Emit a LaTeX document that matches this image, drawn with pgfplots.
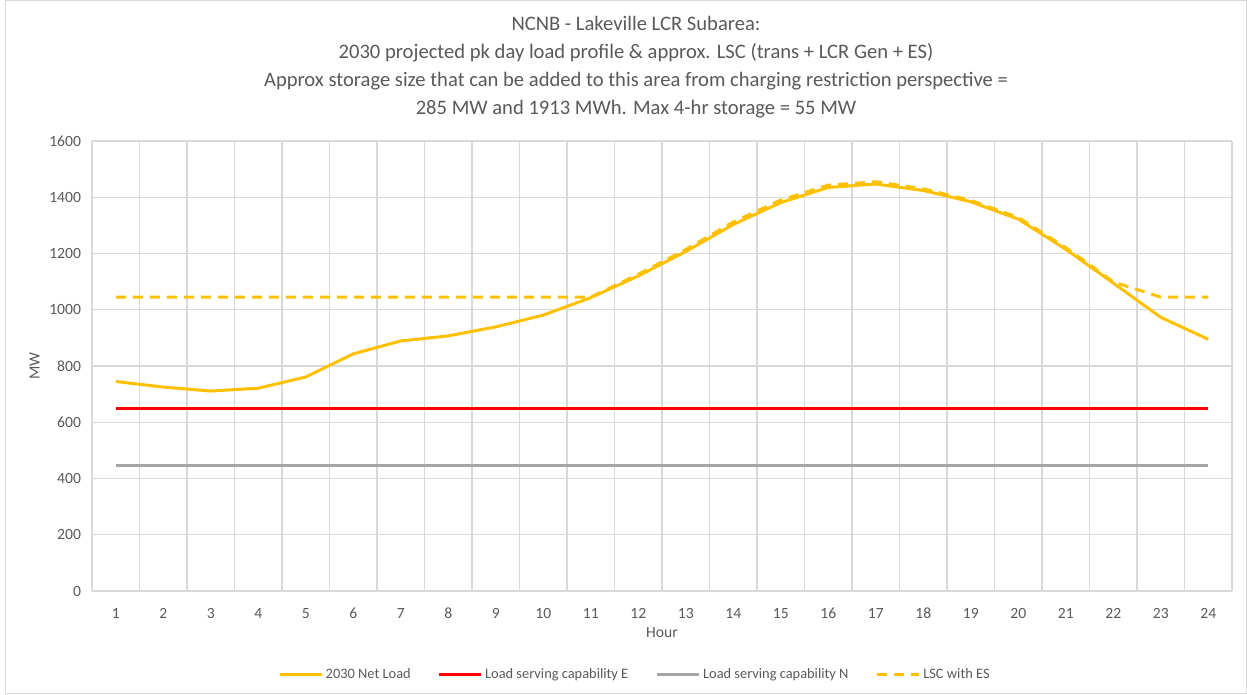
\documentclass[border=0pt]{standalone}
\usepackage{fontspec}
\setmainfont{Carlito}
\usepackage{pgfplots}
\pgfplotsset{compat=1.18}
\definecolor{xlyellow}{HTML}{FFC000}
\definecolor{xlred}{HTML}{FF0000}
\definecolor{xlgray}{HTML}{A5A5A5}
\definecolor{txtgray}{HTML}{595959}
\definecolor{gridgray}{HTML}{D9D9D9}

\begin{document}
\begin{tikzpicture}[x=1pt,y=1pt]
  % chart area (1 px = 0.5 pt), axis lower-left at origin
  \path[use as bounding box] (-46,-52) rectangle (577.5,295.5);
  \draw[gridgray, line width=0.5pt] (-43,-51.5) rectangle (577,295);
  \begin{axis}[
      at={(0,0)}, anchor=origin,
      scale only axis, width=570pt, height=225pt,
      xmin=0.5, xmax=24.5, ymin=0, ymax=1600,
      xtick={1,...,24},
      minor xtick={0.5,1.5,2.5,3.5,4.5,5.5,6.5,7.5,8.5,9.5,10.5,11.5,12.5,
        13.5,14.5,15.5,16.5,17.5,18.5,19.5,20.5,21.5,22.5,23.5,24.5},
      ytick={0,200,...,1600},
      xminorgrids, ymajorgrids,
      grid style={gridgray, line width=0.55pt},
      minor grid style={gridgray, line width=0.55pt},
      major tick length=0pt, minor tick length=0pt,
      axis line style={draw=none},
      axis x line*=bottom, axis y line*=left,
      x axis line style={draw=gridgray, line width=0.6pt},
      tick label style={font=\fontsize{7.8}{9}\selectfont, text=txtgray},
      /pgf/number format/assume math mode=true,
      /pgf/number format/1000 sep={},
      xticklabel style={yshift=-5pt},
      yticklabel style={xshift=-2pt},
      xlabel={Hour}, ylabel={MW},
      label style={font=\fontsize{7.8}{9}\selectfont, text=txtgray},
      xlabel style={yshift=2.5pt},
      ylabel style={yshift=-2pt},
      legend style={draw=none, fill=none, at={(0.4765,-0.186)}, anchor=center,
        font=\fontsize{7.2}{8}\selectfont, text=txtgray,
        nodes={inner xsep=1.2pt},
        /tikz/every even column/.append style={column sep=12.5pt}},
      legend columns=4,
      legend image code/.code={\draw[#1] (0pt,0pt) -- (21pt,0pt);},
    ]
    \addplot[xlyellow, line width=1.5pt] coordinates {
      (1,745) (2,725) (3,711) (4,721) (5,761) (6,843) (7,889) (8,907)
      (9,939) (10,981) (11,1043) (12,1120) (13,1207) (14,1303) (15,1381)
      (16,1435) (17,1447) (18,1424) (19,1384) (20,1322) (21,1215)
      (22,1095) (23,973) (24,895)};
    \addlegendentry{2030 Net Load}
    \addplot[xlred, line width=1.3pt] coordinates {(1,648) (24,648)};
    \addlegendentry{Load serving capability E}
    \addplot[xlgray, line width=1.5pt] coordinates {(1,445) (24,445)};
    \addlegendentry{Load serving capability N}
    \addplot[xlyellow, line width=1.5pt, dash pattern=on 5pt off 3.5pt] coordinates {
      (1,1045) (2,1045) (3,1045) (4,1045) (5,1045) (6,1045) (7,1045) (8,1045)
      (9,1045) (10,1045) (11,1045) (12,1126) (13,1214) (14,1312) (15,1390)
      (16,1443) (17,1455) (18,1430) (19,1389) (20,1328) (21,1221)
      (22,1099) (23,1045) (24,1045)};
    \addlegendentry{LSC with ES}
  \end{axis}
  \node[anchor=north, align=center, text=txtgray,
        font=\fontsize{10.3}{14}\selectfont] at (272,291) {%
    NCNB - Lakeville LCR Subarea:\\
    2030 projected pk day load profile \& approx. LSC (trans + LCR Gen + ES)\\
    Approx storage size that can be added to this area from charging restriction perspective =\\
    285 MW and 1913 MWh. Max 4-hr storage = 55 MW};
\end{tikzpicture}
\end{document}
